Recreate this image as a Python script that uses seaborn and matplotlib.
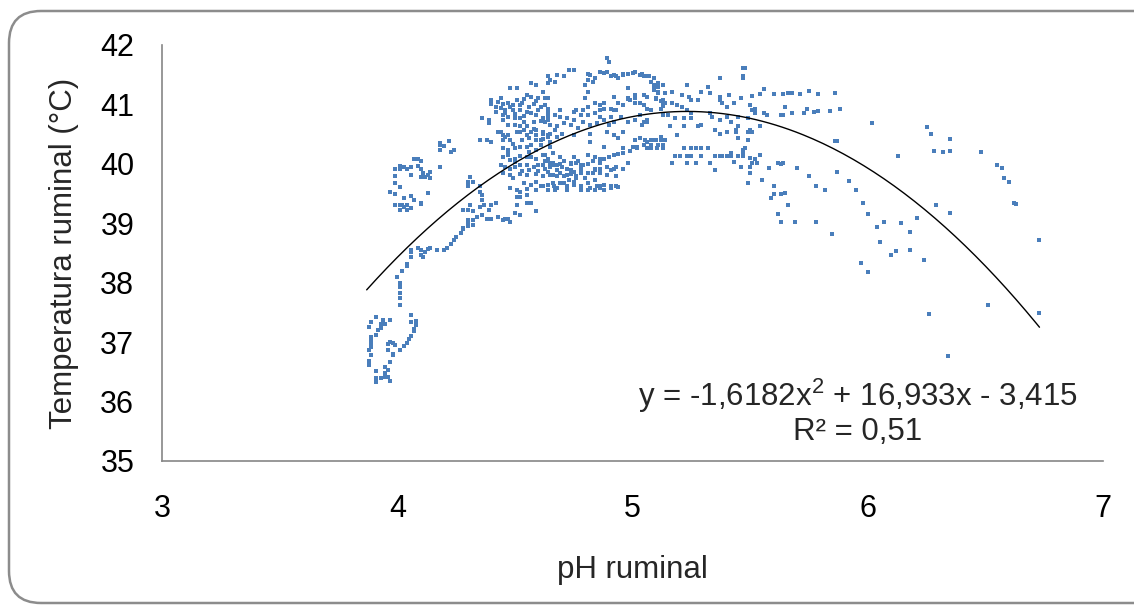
import numpy as np
import pandas as pd
import matplotlib
matplotlib.use("Agg")
import matplotlib.pyplot as plt
from matplotlib.patches import FancyBboxPatch
import seaborn as sns

# (pH ruminal, temperatura ruminal) readings, grouped by region of the cloud
low_loop = [
    (3.91, 37.42), (3.94, 37.38), (3.97, 37.38), (3.89, 37.34), (3.88, 37.25), (3.93, 37.30),
    (3.95, 37.30), (3.92, 37.20), (3.93, 37.23), (3.91, 37.12), (3.89, 37.09), (3.89, 37.04),
    (3.89, 36.97), (3.89, 36.91), (3.88, 36.86), (3.89, 36.78), (3.88, 36.69), (3.88, 36.61),
    (3.91, 36.51), (3.91, 36.40), (3.91, 36.33), (3.93, 36.39), (3.95, 36.42), (3.96, 36.42),
    (3.97, 36.35), (3.95, 36.48), (3.96, 36.53), (3.95, 36.59), (3.97, 36.67), (3.98, 36.80),
    (3.98, 36.78), (4.01, 36.86), (3.96, 36.87), (3.96, 36.97), (3.98, 36.98), (3.99, 36.95),
    (3.97, 37.01), (4.03, 36.94), (4.04, 36.98), (4.05, 37.05), (4.06, 37.10), (4.07, 37.18),
    (4.07, 37.22), (4.08, 37.29), (4.06, 37.34), (4.08, 37.36), (4.06, 37.46),
]

rising_chain = [
    (4.01, 37.63), (4.01, 37.74), (4.01, 37.83), (4.01, 37.93), (4.01, 38.00), (4.00, 38.09),
    (4.02, 38.19), (4.04, 38.28), (4.04, 38.32), (4.06, 38.43), (4.06, 38.55), (4.06, 38.51),
    (4.09, 38.58), (4.10, 38.55), (4.10, 38.47), (4.11, 38.44), (4.12, 38.52), (4.13, 38.56),
    (4.14, 38.58), (4.17, 38.55), (4.20, 38.55), (4.21, 38.58), (4.23, 38.65), (4.24, 38.72),
    (4.25, 38.77), (4.27, 38.84), (4.28, 38.91), (4.30, 38.95),
]

mid_loop = [
    (4.07, 40.08), (4.09, 40.08), (4.10, 40.04), (4.01, 39.96), (4.03, 39.95), (4.04, 39.92),
    (3.99, 39.91), (4.01, 39.91), (4.06, 39.94), (4.09, 39.96), (4.10, 39.92), (4.14, 39.86),
    (4.13, 39.81), (4.10, 39.78), (4.14, 39.77), (4.06, 39.81), (3.99, 39.79), (3.99, 39.67),
    (4.01, 39.61), (3.97, 39.53), (3.99, 39.49), (4.03, 39.43), (4.06, 39.46), (4.07, 39.39),
    (3.99, 39.31), (4.01, 39.31), (4.01, 39.23), (4.03, 39.28), (4.04, 39.23), (4.04, 39.31),
    (4.06, 39.25), (4.10, 39.33), (4.13, 39.51), (4.02, 39.31), (4.18, 40.32), (4.20, 40.30),
    (4.23, 40.20), (4.18, 40.24), (4.22, 40.39), (4.24, 40.24), (4.18, 39.95), (4.30, 39.70),
    (4.30, 39.62), (4.11, 39.84), (4.12, 39.78), (4.10, 39.34),
]

lower_stream = [
    (4.31, 39.78), (4.32, 39.70), (4.35, 39.62), (4.35, 39.53), (4.36, 39.48), (4.36, 39.39),
    (4.37, 39.31), (4.35, 39.28), (4.31, 39.31), (4.30, 39.22), (4.28, 39.22), (4.32, 39.20),
    (4.40, 39.31), (4.42, 39.34), (4.39, 39.22), (4.36, 39.14), (4.34, 39.11), (4.32, 39.06),
    (4.30, 39.06), (4.30, 39.00), (4.28, 38.92), (4.32, 38.97), (4.38, 39.08), (4.40, 39.08),
    (4.43, 39.11), (4.45, 39.06), (4.46, 39.08), (4.47, 39.08), (4.48, 39.03), (4.50, 39.17),
    (4.52, 39.14), (4.51, 39.45), (4.52, 39.53), (4.55, 39.48), (4.57, 39.34), (4.59, 39.20),
    (4.48, 39.59), (4.52, 39.45), (4.55, 39.34), (4.51, 39.31),
]

upper_left_blob = [
    (4.40, 41.08), (4.40, 41.00), (4.44, 41.10), (4.45, 41.00), (4.42, 40.95), (4.47, 41.02),
    (4.49, 40.99), (4.51, 41.08), (4.52, 40.99), (4.54, 41.09), (4.55, 41.16), (4.57, 41.13),
    (4.59, 41.05), (4.60, 41.10), (4.61, 40.96), (4.63, 40.99), (4.64, 41.11), (4.57, 41.36),
    (4.59, 41.33), (4.48, 41.27), (4.51, 41.27), (4.44, 40.94), (4.46, 40.91), (4.49, 40.91),
    (4.52, 40.91), (4.55, 40.88), (4.57, 40.85), (4.59, 40.82), (4.64, 40.79), (4.45, 40.82),
    (4.47, 40.79), (4.50, 40.77), (4.52, 40.78), (4.54, 40.71), (4.58, 40.71), (4.61, 40.72),
    (4.64, 40.74), (4.45, 40.73), (4.47, 40.65), (4.50, 40.65), (4.52, 40.64), (4.55, 40.64),
    (4.36, 40.77), (4.39, 40.74), (4.39, 40.68), (4.43, 40.54), (4.45, 40.49), (4.46, 40.46),
    (4.52, 40.54), (4.55, 40.49), (4.58, 40.59), (4.59, 40.49), (4.62, 40.51), (4.64, 40.46),
    (4.35, 40.40), (4.38, 40.40), (4.40, 40.36), (4.22, 40.38), (4.18, 40.35),
    (4.43, 41.04), (4.48, 40.96), (4.53, 41.03), (4.56, 40.95), (4.60, 40.90), (4.46, 40.86),
    (4.50, 40.84), (4.54, 40.80), (4.42, 40.88), (4.58, 41.00),
]

lower_blob = [
    (4.44, 40.54), (4.47, 40.49), (4.51, 40.54), (4.54, 40.57), (4.57, 40.54), (4.59, 40.57),
    (4.62, 40.54), (4.65, 40.51), (4.67, 40.57), (4.45, 40.40), (4.48, 40.40), (4.53, 40.40),
    (4.56, 40.43), (4.59, 40.40), (4.62, 40.41), (4.65, 40.37), (4.45, 40.26), (4.47, 40.23),
    (4.50, 40.26), (4.52, 40.29), (4.55, 40.29), (4.57, 40.32), (4.59, 40.23), (4.45, 40.12),
    (4.47, 40.15), (4.48, 40.06), (4.50, 40.09), (4.52, 40.13), (4.55, 40.11), (4.57, 40.12),
    (4.59, 40.09), (4.62, 40.15), (4.64, 40.04), (4.66, 40.01), (4.68, 39.98), (4.71, 40.04),
    (4.74, 40.01), (4.77, 40.04), (4.79, 39.98), (4.69, 40.12), (4.75, 40.12), (4.44, 39.98),
    (4.46, 39.95), (4.48, 39.92), (4.50, 39.95), (4.52, 39.98), (4.55, 39.98), (4.58, 39.95),
    (4.60, 39.98), (4.63, 39.92), (4.65, 39.95), (4.68, 39.90), (4.72, 39.92), (4.74, 39.90),
    (4.78, 39.92), (4.45, 39.84), (4.48, 39.81), (4.52, 39.83), (4.55, 39.81), (4.59, 39.83),
    (4.62, 39.80), (4.65, 39.81), (4.68, 39.79), (4.71, 39.80), (4.74, 39.83), (4.76, 39.80),
    (4.81, 39.84), (4.84, 39.90), (4.86, 39.92), (4.89, 39.95), (4.92, 39.92), (4.49, 39.76),
    (4.54, 39.67), (4.57, 39.64), (4.59, 39.70), (4.61, 39.62), (4.64, 39.64), (4.665, 39.62),
    (4.69, 39.67), (4.72, 39.62), (4.75, 39.64), (4.78, 39.62), (4.81, 39.67), (4.85, 39.62),
    (4.88, 39.64), (4.91, 39.62), (4.93, 39.63), (4.51, 39.56), (4.55, 39.57), (4.59, 39.56),
    (4.64, 39.56), (4.68, 39.59), (4.72, 39.56), (4.78, 39.56), (4.82, 39.59), (4.86, 39.59),
    (4.61, 40.32), (4.65, 40.29), (4.63, 40.15), (4.64, 40.09), (4.66, 40.18), (4.65, 40.01),
    (4.62, 39.98), (4.66, 39.98), (4.69, 40.00), (4.71, 40.04), (4.74, 40.00), (4.76, 40.02),
    (4.78, 39.98), (4.81, 40.00), (4.83, 40.04), (4.86, 40.09), (4.88, 40.09), (4.90, 40.12),
    (4.92, 40.15), (4.94, 40.17), (4.96, 40.18), (4.99, 40.21), (5.02, 40.29), (5.05, 40.32),
    (5.08, 40.32), (5.11, 40.32), (5.13, 40.32), (4.96, 40.26), (5.00, 40.29), (4.88, 40.29),
    (4.82, 40.37), (4.81, 40.15), (4.84, 40.12), (4.86, 40.01), (4.89, 39.95), (4.91, 39.90),
    (4.93, 39.95), (4.96, 39.91), (4.98, 40.01), (4.84, 39.92), (4.75, 39.87), (4.78, 39.84),
    (4.83, 39.84), (4.86, 39.85), (4.89, 39.81), (4.93, 39.80), (4.69, 39.84), (4.64, 39.87),
    (4.66, 39.81), (4.72, 39.81), (4.76, 39.76), (4.80, 39.77), (4.84, 39.73), (4.66, 39.67),
    (4.71, 39.67), (4.75, 39.70), (4.62, 39.62), (4.67, 39.56), (4.72, 39.62), (4.78, 39.56),
    (4.81, 39.56), (4.84, 39.56), (4.86, 39.62), (4.88, 39.56), (4.91, 39.59), (4.94, 39.61),
    (4.47, 40.18), (4.50, 40.03), (4.53, 39.88), (4.56, 39.90), (4.60, 39.88), (4.63, 40.05),
    (4.70, 39.95), (4.73, 39.72), (4.56, 40.20), (4.49, 40.33),
]

top_blob = [
    (4.90, 41.72), (4.81, 41.52), (4.82, 41.50), (4.84, 41.44), (4.81, 41.41), (4.80, 41.33),
    (4.83, 41.38), (4.75, 41.58), (4.73, 41.58), (4.64, 41.47), (4.65, 41.41), (4.67, 41.38),
    (4.64, 41.36), (4.68, 41.50), (4.71, 41.47), (4.86, 41.55), (4.89, 41.55), (4.91, 41.48),
    (4.94, 41.44), (4.96, 41.50), (4.98, 41.51), (5.01, 41.55), (5.03, 41.50), (5.06, 41.47),
    (5.09, 41.44), (5.11, 41.36), (5.13, 41.33), (5.09, 41.27), (5.11, 41.21), (5.14, 41.19),
    (5.10, 41.10), (5.12, 41.05), (5.14, 41.02), (5.05, 41.16), (5.06, 41.13), (5.01, 41.10),
    (4.99, 41.08), (4.98, 41.27), (4.92, 41.13), (4.94, 41.02), (4.96, 40.99), (4.91, 40.93),
    (4.88, 41.02), (4.86, 40.99), (4.84, 41.02), (4.81, 41.21), (4.80, 41.10), (4.81, 40.96),
    (4.79, 40.91), (4.76, 40.91), (4.75, 40.88), (4.78, 40.82), (4.81, 40.82), (4.84, 40.85),
    (4.86, 40.79), (4.88, 40.74), (4.85, 40.68), (4.82, 40.65), (4.79, 40.71), (4.75, 40.74),
    (4.72, 40.77), (4.69, 40.79), (4.67, 40.82), (4.64, 40.85), (4.62, 40.77), (4.63, 40.71),
    (4.65, 40.65), (4.68, 40.63), (4.71, 40.68), (4.74, 40.65), (4.77, 40.60), (4.63, 41.10),
    (4.62, 41.21), (4.64, 40.93), (4.69, 40.91), (4.70, 40.51), (4.68, 40.46), (4.64, 40.49),
    (4.61, 40.40), (4.75, 40.49), (4.82, 40.51), (4.89, 40.54), (4.92, 40.49), (4.94, 40.43),
    (5.03, 40.43), (5.06, 40.37), (5.09, 40.40), (5.12, 40.46), (4.93, 40.91), (4.91, 40.79),
    (4.95, 40.79), (4.98, 40.71), (5.03, 40.82), (5.05, 40.71), (5.06, 40.74), (4.98, 41.10),
    (5.01, 41.02),
]

peak_band = [
    (4.86, 41.55), (4.88, 41.53), (4.92, 41.50), (4.93, 41.47), (4.96, 41.52), (4.98, 41.51),
    (5.00, 41.53), (5.04, 41.51), (5.05, 41.47), (5.07, 41.47), (5.08, 41.38), (5.09, 41.33),
    (5.11, 41.29), (5.09, 41.24), (5.11, 41.19), (5.10, 41.09), (5.13, 41.07), (5.13, 41.02),
    (5.13, 40.97), (5.17, 41.21), (5.21, 41.16), (5.23, 41.33), (5.24, 41.13), (5.25, 41.07),
    (5.28, 41.07), (5.29, 41.21), (5.32, 41.30), (5.33, 41.19), (5.37, 41.13), (5.37, 41.07),
    (5.38, 41.02), (5.40, 40.96), (5.41, 41.16), (5.43, 41.03), (5.46, 41.10), (5.50, 40.99),
    (5.51, 40.91), (5.52, 40.85), (4.98, 41.09), (5.01, 41.16), (5.03, 41.02), (5.05, 40.99),
    (5.06, 40.93), (5.08, 40.91), (5.12, 40.93), (5.17, 41.02), (5.19, 40.99), (5.21, 40.96),
    (5.23, 40.91), (5.25, 40.85), (5.18, 40.77), (5.22, 40.77), (5.25, 40.77), (5.29, 40.65),
    (5.33, 40.85), (5.34, 40.79), (5.37, 40.74), (5.40, 40.79), (5.42, 40.71), (5.45, 40.79),
    (5.45, 40.63), (5.49, 40.77), (4.86, 40.91), (4.88, 40.93), (4.92, 40.91), (4.92, 40.71),
    (4.88, 40.74), (4.90, 40.65), (4.96, 40.54), (4.89, 40.54), (5.01, 40.74), (5.04, 40.65),
    (5.06, 40.71), (5.15, 40.82), (5.13, 40.82), (5.16, 40.63), (5.19, 40.49), (5.22, 40.63),
    (5.28, 40.63), (5.35, 40.57), (5.37, 40.51), (5.40, 40.54), (5.44, 40.54), (5.45, 40.43),
    (5.49, 40.40), (5.51, 40.54), (5.37, 41.44), (5.47, 41.61), (5.47, 41.47), (4.89, 41.78),
    (5.01, 40.40), (5.055, 40.40), (5.08, 40.40), (5.10, 40.40), (5.12, 40.40), (5.14, 40.40),
    (5.02, 40.26), (5.06, 40.26), (5.08, 40.26), (5.105, 40.26), (5.13, 40.26), (5.22, 40.26),
    (5.25, 40.26), (5.27, 40.26), (5.29, 40.26), (5.32, 40.26), (5.18, 40.14), (5.20, 40.14),
    (5.23, 40.14), (5.25, 40.14), (5.29, 40.14), (5.35, 40.14), (5.37, 40.14), (5.38, 40.14),
    (5.40, 40.14), (5.42, 40.14), (5.45, 40.14), (5.47, 40.14), (5.17, 40.01), (5.23, 40.01),
    (5.27, 40.01), (5.33, 40.01), (5.35, 39.90), (5.43, 40.03), (5.46, 39.95), (5.50, 39.95),
    (5.47, 40.23), (5.50, 40.10), (5.53, 40.01), (5.54, 40.15),
]

right_rows = [
    (5.54, 41.17), (5.60, 41.17), (5.64, 41.17), (5.66, 41.19), (5.68, 41.19), (5.71, 41.17),
    (5.75, 41.22), (5.79, 41.17), (5.86, 41.19), (5.48, 41.61), (5.47, 41.45), (5.56, 41.26),
    (5.51, 41.15), (5.50, 40.99), (5.52, 40.92), (5.65, 40.96), (5.74, 40.92), (5.77, 40.88),
    (5.79, 40.89), (5.84, 40.89), (5.88, 40.92), (5.68, 40.85), (5.73, 40.85), (5.63, 40.83),
    (5.64, 40.83), (5.57, 40.83), (5.56, 40.85), (5.54, 40.63), (5.50, 40.57), (5.49, 40.53),
    (5.49, 40.40), (5.44, 40.57), (5.45, 40.43), (5.47, 40.20), (5.48, 40.26), (5.42, 40.18),
    (5.54, 40.15), (5.52, 40.09), (5.62, 40.01), (5.64, 40.01), (5.51, 40.01), (5.86, 40.38),
]

right_tail = [
    (6.02, 40.69), (5.87, 40.38), (5.87, 39.86), (5.92, 39.71), (5.95, 39.56), (5.98, 39.34),
    (6.00, 39.16), (6.07, 39.02), (6.04, 38.94), (6.05, 38.69), (5.85, 38.82), (5.78, 39.63),
    (5.82, 39.56), (5.75, 39.80), (5.70, 39.93), (5.63, 40.00), (5.58, 39.93), (5.60, 39.63),
    (5.60, 39.49), (5.63, 39.49), (5.65, 39.51), (5.66, 39.31), (5.62, 39.16), (5.63, 39.02),
    (5.69, 39.02), (5.78, 39.02), (5.55, 39.73), (5.49, 39.68), (5.50, 39.85), (5.59, 39.43),
    (6.73, 38.72), (6.73, 37.49), (6.63, 39.32), (6.51, 37.62), (6.34, 36.77), (6.26, 37.47),
    (6.24, 38.38), (6.29, 39.31), (6.35, 39.17), (6.21, 39.09), (6.18, 38.85), (6.18, 38.55),
    (6.12, 38.53), (6.10, 38.47), (6.14, 39.00), (5.97, 38.33), (6.00, 38.18), (6.13, 40.13),
    (6.25, 40.62), (6.27, 40.50), (6.28, 40.22), (6.32, 40.20), (6.35, 40.22), (6.35, 40.42),
    (6.48, 40.20), (6.55, 39.98), (6.57, 39.93), (6.58, 39.76), (6.60, 39.70), (6.62, 39.34),
]

# Fitted polynomial trend (coefficients as printed on the chart, highest degree first)
trend_coefs = [-1.6182, 16.933, -3.415]
trend_range = (3.87, 6.73)
trend_label = "y = -1,6182x$^{2}$ + 16,933x - 3,415"
r2_label = "R² = 0,51"

x_ticks = [3, 4, 5, 6, 7]
y_ticks = [35, 36, 37, 38, 39, 40, 41, 42]

groups = [low_loop, rising_chain, mid_loop, lower_stream, upper_left_blob,
          lower_blob, top_blob, peak_band, right_rows, right_tail]
points = pd.DataFrame([p for g in groups for p in g], columns=["ph", "temp"])

trend_x = np.linspace(*trend_range, 200)
trend = pd.DataFrame({"ph": trend_x, "temp": np.polyval(trend_coefs, trend_x)})

sns.set_theme(style="white")
plt.rcParams["font.family"] = ["Liberation Sans", "DejaVu Sans"]
plt.rcParams["mathtext.fontset"] = "custom"
plt.rcParams["mathtext.rm"] = "Liberation Sans"
plt.rcParams["mathtext.it"] = "Liberation Sans"

fig = plt.figure(figsize=(11.34, 6.07), dpi=100)
ax = fig.add_axes([162 / 1134, 1 - 461 / 607, (1103 - 162) / 1134, (461 - 45) / 607])

sns.scatterplot(data=points, x="ph", y="temp", ax=ax, marker="s", s=11,
                color="#4A7EBB", linewidth=0, legend=False, zorder=2)
sns.lineplot(data=trend, x="ph", y="temp", ax=ax, color="black", linewidth=1.0,
             sort=True, legend=False, zorder=3)

ax.set_xlim(3, 7)
ax.set_ylim(35, 42)
ax.set_xticks(x_ticks)
ax.set_yticks(y_ticks)
ax.tick_params(axis="both", labelsize=22, colors="#868686", labelcolor="black",
               length=7, width=1.2, direction="out")
ax.tick_params(axis="x", pad=17)
ax.tick_params(axis="y", pad=13)
for side in ("top", "right"):
    ax.spines[side].set_visible(False)
for side in ("left", "bottom"):
    ax.spines[side].set_color("#868686")
    ax.spines[side].set_linewidth(1.2)
ax.set_xlabel("pH ruminal", fontsize=22.5, labelpad=22)
ax.set_ylabel("Temperatura ruminal (°C)", fontsize=22.5, labelpad=15)

ax.text(858 / 1134, 1 - 396 / 607, trend_label, transform=fig.transFigure,
        ha="center", va="center", fontsize=22.5)
ax.text(858 / 1134, 1 - 432 / 607, r2_label, transform=fig.transFigure,
        ha="center", va="center", fontsize=22.5)

frame = FancyBboxPatch((9, 4), 1170, 592, boxstyle="round,pad=0,rounding_size=32",
                       transform=None, facecolor="none", edgecolor="#8C8C8C",
                       linewidth=1.8, zorder=0)
fig.add_artist(frame)

fig.savefig("out.png", dpi=100)
